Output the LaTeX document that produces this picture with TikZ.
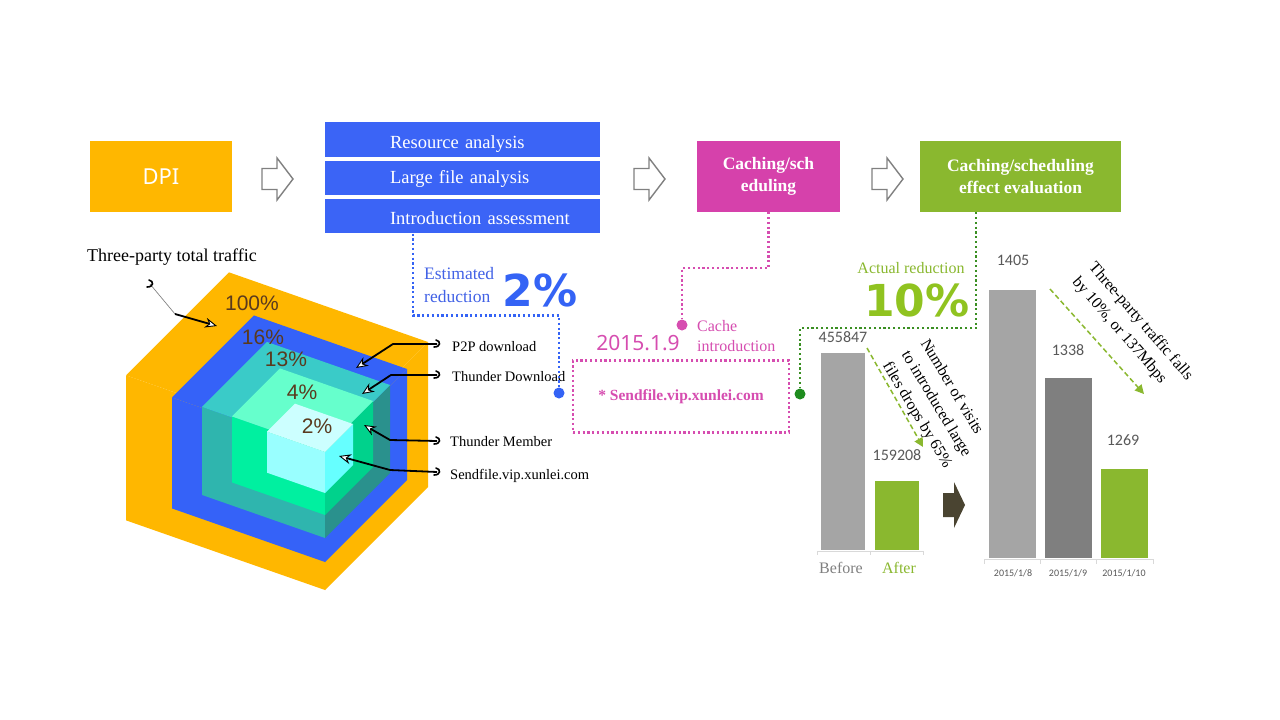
\documentclass[tikz,border=0pt]{standalone}
\usepackage{fontspec}
\setmainfont{Liberation Serif}
\newfontfamily\arialf{Liberation Sans}
\newfontfamily\notof{Noto Sans}
\newfontfamily\carlf{Carlito}
\newfontfamily\djvf{DejaVu Sans}
\usetikzlibrary{arrows.meta}
\definecolor{cOrange}{HTML}{FFB700}
\definecolor{cBlueBox}{HTML}{3B64F6}
\definecolor{cMag}{HTML}{D641AB}
\definecolor{cGreen}{HTML}{8AB82F}
\definecolor{cBlueTxt}{HTML}{4262E6}
\definecolor{cBig}{HTML}{3463F5}
\definecolor{cMagTxt}{HTML}{D64DB0}
\definecolor{cLime}{HTML}{90C320}
\definecolor{cDkGreen}{HTML}{1E8C1E}
\definecolor{cDotGreen}{HTML}{3A8F22}
\definecolor{cGrayBar}{HTML}{A5A5A5}
\definecolor{cDkBar}{HTML}{7F7F7F}
\definecolor{cNum}{HTML}{595959}
\definecolor{cBrown}{HTML}{5A3A1E}
\definecolor{cCubeBlue}{HTML}{3562F8}
\definecolor{cTealF}{HTML}{2FB5AE}
\definecolor{cTealR}{HTML}{2A918D}
\definecolor{cTealT}{HTML}{3ACBC8}
\definecolor{cMintF}{HTML}{00F0A0}
\definecolor{cMintR}{HTML}{00D28C}
\definecolor{cMintT}{HTML}{66FFCC}
\definecolor{cCyanF}{HTML}{99FFFF}
\definecolor{cCyanR}{HTML}{66FFFF}
\definecolor{cCyanT}{HTML}{CCFFFF}
\definecolor{cArrowDk}{HTML}{4A4431}
\definecolor{cAxis}{HTML}{D9D9D9}

% L B W H D front right top
\newcommand\cubeLayer[8]{%
  \fill[#6] (#1,{#2-0.35*#3}) -- (325,#2) -- (325,{#2-#4}) -- (#1,{#2-0.35*#3-#4}) -- cycle;
  \fill[#7] (325,#2) -- ({325+#5},{#2-#5}) -- ({325+#5},{#2-#5-#4}) -- (325,{#2-#4}) -- cycle;
  \fill[#8] (#1,{#2-0.35*#3-#4}) -- (325,{#2-#4}) -- ({325+#5},{#2-#5-#4}) -- ({#1+#5},{#2-0.35*#3-#4-#5}) -- cycle;
}
\newcommand\hollowArrow[1]{%
  \draw[hollow, shift={(#1)}] (0,-10.5) -- (15,-10.5) -- (15,-21) -- (31,0) -- (15,21) -- (15,10.5) -- (0,10.5) -- cycle;
}
\newcommand\hookMark[1]{%
  \draw[hookst, shift={(#1)}] (-1,-4) .. controls (4,-3) and (4,3) .. (-3,3);
}

\tikzset{
  flowbox/.style={inner sep=0pt, text=white, minimum height=71pt, align=center},
  bluebox/.style={inner sep=0pt, text=white, fill=cBlueBox, text width=275pt, align=left,
    font=\fontsize{18.5}{22}\selectfont},
  hollow/.style={draw=gray, line width=1.4pt, fill=white, line join=miter},
  hookst/.style={line width=1.6pt, line cap=round},
  callout/.style={draw=black, line width=1.8pt, -{Stealth[length=12pt, width=10pt, fill=white, line width=0.9pt]}},
  lbl/.style={anchor=west, inner sep=0pt, font=\fontsize{14.5}{17}\selectfont},
  pct/.style={inner sep=0pt, text=cBrown, font=\arialf\fontsize{21}{24}\selectfont},
  dotline/.style={line width=2.2pt, dash pattern=on 2.2pt off 2.6pt},
  bigdot/.style={circle, inner sep=0pt, minimum size=11pt},
  num/.style={inner sep=0pt, text=cNum, font=\carlf\fontsize{16}{19}\selectfont},
  date/.style={inner sep=0pt, text=cNum, font=\carlf\fontsize{10}{12}\selectfont},
  rottxt/.style={anchor=north west, inner sep=0pt, align=left, font=\fontsize{16}{22}\selectfont},
  gdash/.style={draw=cGreen, line width=1.5pt, dash pattern=on 5pt off 3pt, -{Triangle[length=9pt, width=9pt]}},
  axisln/.style={draw=cAxis, line width=1pt}
}

\begin{document}
\begin{tikzpicture}[x=1pt, y=-1pt]
\useasboundingbox (0,0) rectangle (1280,720);
\fill[white] (0,0) rectangle (1280,720);

% ---------- top flow ----------
\node[flowbox, fill=cOrange, minimum width=142pt, font=\notof\fontsize{22}{26}\selectfont] (dpi) at (161,176.5) {DPI};
\node[bluebox, minimum height=34.4pt, text height=17pt, text depth=0pt] (ana1) at (462.5,139.5) {\hspace*{65pt}Resource analysis};
\node[bluebox, minimum height=34pt, text height=13pt, text depth=2.4pt] (ana2) at (462.5,178) {\hspace*{65pt}Large file analysis};
\node[bluebox, minimum height=34.3pt, text height=17pt, text depth=0.4pt] (ana3) at (462.5,216.2) {\hspace*{65pt}Introduction assessment};
\node[flowbox, fill=cMag, minimum width=143pt, font=\bfseries\fontsize{17.5}{22}\selectfont] (cs) at (768.5,176.5) {Caching/sch\\eduling};
\node[flowbox, fill=cGreen, minimum width=201pt, font=\bfseries\fontsize{17.5}{22}\selectfont] (ev) at (1020.5,176.5) {Caching/scheduling\\effect evaluation};

\coordinate (ar1) at (262,179);
\coordinate (ar2) at (634,179);
\coordinate (ar3) at (872,179);
\hollowArrow{ar1}
\hollowArrow{ar2}
\hollowArrow{ar3}

% ---------- nested cubes ----------
\cubeLayer{126}{590}{199}{145}{103}{cOrange}{cOrange}{cOrange}
\cubeLayer{172}{562}{153}{111}{82}{cCubeBlue}{cCubeBlue}{cCubeBlue}
\cubeLayer{202}{538}{123}{88}{65}{cTealF}{cTealR}{cTealT}
\cubeLayer{232}{515}{93}{66}{48}{cMintF}{cMintR}{cMintT}
\cubeLayer{267}{493}{58}{41}{28}{cCyanF}{cCyanR}{cCyanT}

\node[pct] (p100) at (252,303) {100\%};
\node[pct] (p16) at (263,337) {16\%};
\node[pct] (p13) at (286,359) {13\%};
\node[pct] (p4) at (302,392) {4\%};
\node[pct] (p2) at (317,426) {2\%};

% ---------- callouts ----------
\node[inner sep=0pt, font=\fontsize{18}{21}\selectfont] (ltot) at (172,257) {Three-party total traffic};
\node[lbl] (lp2p) at (452,347) {P2P download};
\node[lbl] (ltd) at (452,377) {Thunder Download};
\node[lbl] (ltm) at (450,442) {Thunder Member};
\node[lbl] (lsf) at (450,476) {Sendfile.vip.xunlei.com};

\coordinate (hk0) at (150,284);
\coordinate (b0) at (175,314);
\coordinate (t0) at (217,326);
\coordinate (hk1) at (437,344);
\coordinate (b1) at (393,344);
\coordinate (t1) at (356,368);
\coordinate (hk2) at (437,375);
\coordinate (b2) at (391,375);
\coordinate (t2) at (362,394);
\coordinate (hk3) at (437,441);
\coordinate (b3) at (390,440);
\coordinate (t3) at (364,425);
\coordinate (hk4) at (437,472);
\coordinate (b4) at (390,470);
\coordinate (t4) at (339,456);

\draw[gray, line width=0.7pt] (hk0) -- (b0);
\draw[callout] (b0) -- (t0);
\draw[callout] (hk1) -- (b1) -- (t1);
\draw[callout] (hk2) -- (b2) -- (t2);
\draw[callout] (hk3) -- (b3) -- (t3);
\draw[callout] (hk4) -- (b4) -- (t4);
\hookMark{hk0}
\hookMark{hk1}
\hookMark{hk2}
\hookMark{hk3}
\hookMark{hk4}

% ---------- estimated reduction ----------
\node[anchor=west, inner sep=0pt, align=left, text=cBlueTxt, font=\fontsize{17.5}{23}\selectfont] (est) at (424,285) {Estimated\\reduction};
\node[inner sep=0pt, text=cBig, font=\djvf\bfseries\fontsize{44}{48}\selectfont] (e2) at (540,290) {2\%};
\node[bigdot, fill=cBig] (bdot) at (559,393) {};
\draw[cBig, dotline] ([xshift=-49.5pt]ana3.south) -- ++(0,82) -| (bdot);

% ---------- cache introduction ----------
\node[bigdot, fill=cMagTxt] (mdot) at (682,325) {};
\draw[cMagTxt, dotline] (cs.south) -- ++(0,56) -| (mdot);
\node[anchor=west, inner sep=0pt, align=left, text=cMagTxt, font=\fontsize{16}{20}\selectfont] (cint) at (697,336) {Cache\\introduction};
\node[inner sep=0pt, text=cMagTxt, font=\notof\fontsize{21}{24}\selectfont] (date) at (638,343) {2015.1.9};
\node[draw=cMagTxt, dotline, minimum width=216pt, minimum height=72pt, inner sep=0pt, text=cMagTxt, font=\bfseries\fontsize{15.5}{18}\selectfont] (sf) at (681,396.5) {* Sendfile.vip.xunlei.com};

% ---------- actual reduction ----------
\node[inner sep=0pt, text=cGreen, font=\fontsize{16}{19}\selectfont] (act) at (911,268) {Actual reduction};
\node[inner sep=0pt, text=cLime, font=\djvf\bfseries\fontsize{44}{48}\selectfont] (a10) at (917,300) {10\%};
\node[bigdot, fill=cDkGreen] (gdot) at (800,394) {};
\draw[cDotGreen, dotline] ([xshift=-44.5pt]ev.south) -- ++(0,116) -| (gdot);

% ---------- chart 1 ----------
\fill[cGrayBar] (821,353) rectangle (865,550);
\fill[cGreen] (875,481) rectangle (919,550);
\draw[axisln] (817,551) -- (923,551);
\draw[axisln] (817,551) -- (817,555) (870,551) -- (870,555) (923,551) -- (923,555);
\node[num] (v1) at (843,337) {455847};
\node[num] (v2) at (897,455) {159208};
\node[inner sep=0pt, text=gray, font=\fontsize{16}{19}\selectfont] (bef) at (841,568) {Before};
\node[inner sep=0pt, text=cGreen, font=\fontsize{16}{19}\selectfont] (aft) at (899,568) {After};
\coordinate (g1s) at (867,348);
\coordinate (g1e) at (923,447);
\draw[gdash] (g1s) -- (g1e);
\node[rottxt, rotate=-59] (r1) at (930,337) {Number of visits\\to introduced large\\files drops by 65\%};

% dark arrow
\fill[cArrowDk] (943,493) -- (954,493) -- (954,482) -- (965,505) -- (954,528) -- (954,517) -- (943,517) -- cycle;

% ---------- chart 2 ----------
\fill[cGrayBar] (989,290) rectangle (1036,558);
\fill[cDkBar] (1045,378) rectangle (1092,558);
\fill[cGreen] (1101,469) rectangle (1148,558);
\draw[axisln] (984,559) -- (1153,559);
\draw[axisln] (984,559) -- (984,564) (1040,559) -- (1040,564) (1096,559) -- (1096,564) (1153,559) -- (1153,564);
\node[num] (c1) at (1013,260) {1405};
\node[num] (c2) at (1068,350) {1338};
\node[num] (c3) at (1123,440) {1269};
\node[date] (d1) at (1013,573) {2015/1/8};
\node[date] (d2) at (1068,573) {2015/1/9};
\node[date] (d3) at (1124,573) {2015/1/10};
\coordinate (g2s) at (1050,289);
\coordinate (g2e) at (1144,394);
\draw[gdash] (g2s) -- (g2e);
\node[rottxt, rotate=-49] (r4) at (1097,260) {Three-party traffic falls\\by 10\%, or 137Mbps};
\end{tikzpicture}
\end{document}
